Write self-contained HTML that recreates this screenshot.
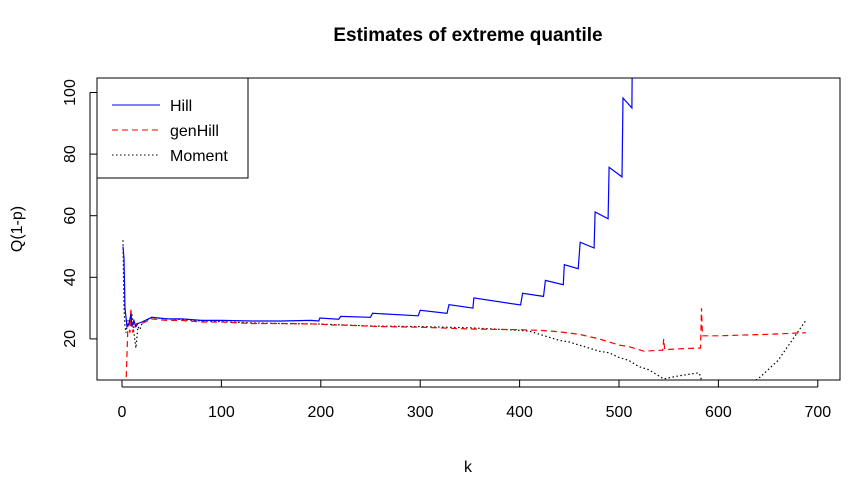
<!DOCTYPE html>
<html><head><meta charset="utf-8"><style>
body{margin:0;background:#fff}
svg{display:block;font-family:"Liberation Sans",Arial,sans-serif}
</style></head><body>
<svg id="c" width="865" height="487">
<text x="468" y="41" text-anchor="middle" font-size="19" font-weight="bold">Estimates of extreme quantile</text>
<text x="468" y="472" text-anchor="middle" font-size="16">k</text>
<text transform="translate(22,229) rotate(-90)" text-anchor="middle" font-size="16">Q(1-p)</text>
<defs><clipPath id="clip"><rect x="97" y="78" width="743" height="302"/></clipPath></defs>
<g id="series" clip-path="url(#clip)"></g>
<g id="axes"></g>
<rect x="97" y="78" width="743" height="302" fill="none" stroke="#000"/>
<g>
<rect x="97" y="78" width="151" height="100" fill="#fff" stroke="#000"/>
<line x1="112" y1="105" x2="160" y2="105" stroke="#00f"/>
<text x="170" y="111" font-size="16">Hill</text>
<line x1="112" y1="130" x2="160" y2="130" stroke="#f00" stroke-dasharray="6,4"/>
<text x="170" y="136" font-size="16">genHill</text>
<line x1="112" y1="155" x2="160" y2="155" stroke="#000" stroke-dasharray="1.5,2.5"/>
<text x="170" y="161" font-size="16">Moment</text>
</g>
</svg>
<script>
const xTicks=[0,100,200,300,400,500,600,700];
const yTicks=[20,40,60,80,100];
const hillK=[1,2,3,5,7,9,10,12,14,16,20,30,45,60,80,100,130,160,190,198,199,218,220,250,252,298,300,327,329,353,354,401,403,424,426,444,445,459,461,475,476,489,490,503,504,513,514];
const hillV=[50,46,30,24,25,28,24,26,24,25,25.5,27,26.5,26.5,26,26,25.8,25.8,26,25.8,26.8,26.4,27.3,27,28.3,27.5,29.3,28.3,31.1,30,33.3,31,34.8,33.8,39,37.6,44.1,42.8,51.4,49.5,61.2,59,75.7,72.6,98.2,95,140];
const genK=[2,4,5,6,8,9,10,11,12,13,15,20,30,45,60,80,100,130,160,200,210,220,260,300,350,400,420,440,460,480,490,500,510,525,540,544,545,546,560,580,582,583,584,586,600,650,688];
const genV=[5,5,15,25,22,30,24,22,26,24,25,25,26.5,26,26,25.5,25.5,25,25,24.8,24.5,24.5,24,23.8,23.2,23,22.8,22.3,21.5,20,19,18,17.5,16,16.3,16.3,20,16.5,16.8,17,17,30,21,21,21,21.5,22];
const momK=[1,2,3,4,6,8,10,12,14,16,18,20,30,45,60,80,100,130,160,200,250,300,350,400,410,420,440,450,460,470,480,490,500,510,520,530,545,560,580,582,585,620,640,660,688];
const momV=[52,30,24,22,26,24,28,22,17,24,23,25,27,26.5,26.3,25.8,25.6,25.2,25,24.8,24.2,24,23.6,22.8,22.5,21.5,19.5,19,18,17,16,15.5,14,13,11,10,7,8,9,8,3,4,7,13,26];
const X=k=>122+k*0.994, Y=v=>400.5-v*3.08;
const NS="http://www.w3.org/2000/svg";
const axes=document.getElementById('axes'), ser=document.getElementById('series');
function mk(p,t,a){const e=document.createElementNS(NS,t);for(const k in a)e.setAttribute(k,a[k]);p.appendChild(e);return e;}
xTicks.forEach(t=>{
 const l=mk(axes,'line',{x1:X(t),x2:X(t),y1:380,y2:387,stroke:'#000'});
 
 
 const tx=mk(axes,'text',{x:X(t),y:417,'text-anchor':'middle','font-size':16});tx.textContent=t;
 
 
});
mk(axes,'line',{x1:X(0),x2:X(700),y1:387,y2:387,stroke:'#000'});
yTicks.forEach(t=>{
 const l=mk(axes,'line',{x1:90,x2:97,y1:Y(t),y2:Y(t),stroke:'#000'});
 
 
 const tx=mk(axes,'text',{transform:`translate(75,${Y(t)}) rotate(-90)`,'text-anchor':'middle','font-size':16});tx.textContent=t;
 
 
});
mk(axes,'line',{x1:90,x2:90,y1:Y(20),y2:Y(100),stroke:'#000'});
function draw(ks,vs,col,dash,name){
 const pts=ks.map((k,i)=>X(k).toFixed(1)+','+Y(vs[i]).toFixed(1)).join(' ');
 const p=mk(ser,'polyline',{points:pts,fill:'none',stroke:col,'stroke-width':1.2,'stroke-dasharray':dash});
 
 
}
draw(momK,momV,'#000','1.5,2.5','moment-line');
draw(genK,genV,'#f00','6,4','genhill-line');
draw(hillK,hillV,'#00f','none','hill-line');
</script>
</body></html>
